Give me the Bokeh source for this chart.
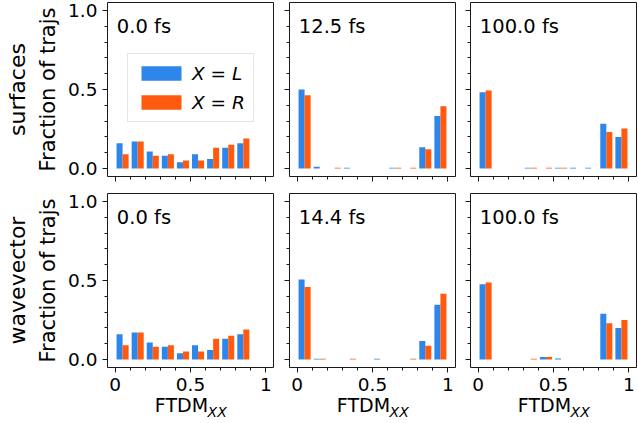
import math
from bokeh.plotting import figure
from bokeh.models import Range1d, FixedTicker, Label, Legend, LegendItem, LinearAxis
from bokeh.layouts import column, row
from bokeh.embed import file_html
from bokeh.resources import INLINE

# ---------------- data ----------------
bin_edges = [0.0, 0.1, 0.2, 0.3, 0.4, 0.5, 0.6, 0.7, 0.8, 0.9, 1.0]
row_names = ["surfaces", "wavevector"]
series_names = ["X = L", "X = R"]
panel_times = [["0.0 fs", "12.5 fs", "100.0 fs"], ["0.0 fs", "14.4 fs", "100.0 fs"]]
x_label_main = "FTDM"
x_label_sub = "XX"
y_label = "Fraction of trajs"

surf_00_L = [0.160, 0.171, 0.108, 0.081, 0.040, 0.091, 0.061, 0.132, 0.160, 0.0]
surf_00_R = [0.091, 0.171, 0.081, 0.091, 0.051, 0.051, 0.132, 0.151, 0.191, 0.0]
surf_125_L = [0.500, 0.012, 0.0, 0.005, 0.0, 0.0, 0.005, 0.0, 0.135, 0.333]
surf_125_R = [0.463, 0.0, 0.005, 0.0, 0.0, 0.0, 0.005, 0.005, 0.122, 0.394]
surf_100_L = [0.482, 0.0, 0.0, 0.005, 0.0, 0.005, 0.005, 0.005, 0.284, 0.200]
surf_100_R = [0.493, 0.0, 0.0, 0.005, 0.005, 0.005, 0.0, 0.0, 0.232, 0.253]

wave_00_L = [0.160, 0.171, 0.108, 0.081, 0.040, 0.091, 0.061, 0.132, 0.160, 0.0]
wave_00_R = [0.091, 0.171, 0.081, 0.091, 0.051, 0.051, 0.132, 0.151, 0.191, 0.0]
wave_144_L = [0.507, 0.006, 0.0, 0.0, 0.0, 0.006, 0.0, 0.0, 0.118, 0.347]
wave_144_R = [0.459, 0.006, 0.0, 0.006, 0.0, 0.0, 0.0, 0.006, 0.088, 0.417]
wave_100_L = [0.476, 0.0, 0.0, 0.0, 0.017, 0.007, 0.0, 0.0, 0.290, 0.200]
wave_100_R = [0.488, 0.0, 0.0, 0.006, 0.017, 0.0, 0.0, 0.0, 0.229, 0.250]

panels = [[(surf_00_L, surf_00_R), (surf_125_L, surf_125_R), (surf_100_L, surf_100_R)],
          [(wave_00_L, wave_00_R), (wave_144_L, wave_144_R), (wave_100_L, wave_100_R)]]

y_ticks = [0.0, 0.5, 1.0]
y_tick_labels = ["0.0", "0.5", "1.0"]
x_ticks = [0.0, 0.5, 1.0]
x_tick_labels = ["0", "0.5", "1"]
minor = [0.1, 0.2, 0.3, 0.4, 0.6, 0.7, 0.8, 0.9]

# ---------------- style ----------------
BLUE = "#2e86eb"
ORANGE = "#ff5a0e"
FONT = "DejaVu Sans"
NBSP = "\u00a0"
FRAME_W = 166
FRAME_H = 174
LB = [107, 8, 8]
RB = [8, 7, 1]
TB = [2, 9]
BB = [8, 55]
PX_Y = FRAME_H / 1.1


def style_axis(ax):
    ax.axis_line_color = None
    ax.major_tick_line_color = "#1a1a1a"
    ax.minor_tick_line_color = "#1a1a1a"
    ax.major_tick_out = 5
    ax.major_tick_in = 0
    ax.minor_tick_out = 3
    ax.minor_tick_in = 0
    ax.major_label_text_font = FONT
    ax.major_label_text_color = "black"
    ax.major_label_text_font_size = "18.5px"


def label_axis(text, size, standoff, italic=False):
    ax = LinearAxis(ticker=FixedTicker(ticks=[]), axis_line_color=None,
                    major_tick_out=0, major_tick_in=0, minor_tick_out=0, minor_tick_in=0,
                    major_label_text_font_size="1px", major_label_standoff=0,
                    major_label_text_alpha=0,
                    axis_label=text, axis_label_standoff=standoff,
                    axis_label_text_font=FONT, axis_label_text_font_size=size,
                    axis_label_text_color="black",
                    axis_label_text_font_style="italic" if italic else "normal")
    return ax


def make_panel(r, c):
    L, R = panels[r][c]
    p = figure(width=LB[c] + FRAME_W + RB[c], height=TB[r] + FRAME_H + BB[r],
               x_range=Range1d(-0.05, 1.05), y_range=Range1d(-0.05, 1.05),
               output_backend="svg", toolbar_location=None, tools="",
               min_border_left=LB[c], min_border_right=RB[c],
               min_border_top=TB[r], min_border_bottom=BB[r])
    p.grid.visible = False
    p.outline_line_color = "#1a1a1a"
    p.outline_line_width = 1
    p.background_fill_color = "white"
    p.border_fill_color = "white"

    lefts = bin_edges[:-1]
    widths = [b - a for a, b in zip(bin_edges[:-1], bin_edges[1:])]
    xl = [a + 0.3 * w for a, w in zip(lefts, widths)]
    xr = [a + 0.7 * w for a, w in zip(lefts, widths)]
    bw = [0.4 * w for w in widths]
    rl = p.vbar(x=xl, top=L, bottom=0, width=bw, fill_color=BLUE, line_color=None)
    rr = p.vbar(x=xr, top=R, bottom=0, width=bw, fill_color=ORANGE, line_color=None)

    style_axis(p.xaxis[0])
    style_axis(p.yaxis[0])
    p.xaxis.ticker = FixedTicker(ticks=x_ticks, minor_ticks=minor)
    p.yaxis.ticker = FixedTicker(ticks=y_ticks, minor_ticks=minor)
    p.xaxis.major_label_overrides = {t: s for t, s in zip(x_ticks, x_tick_labels)}
    p.yaxis.major_label_overrides = {t: s for t, s in zip(y_ticks, y_tick_labels)}

    if r == 1:
        p.xaxis.major_label_standoff = 5
        p.xaxis.axis_label = x_label_main + NBSP * 3
        p.xaxis.axis_label_text_font = FONT
        p.xaxis.axis_label_text_font_size = "19px"
        p.xaxis.axis_label_text_font_style = "normal"
        p.xaxis.axis_label_text_color = "black"
        p.xaxis.axis_label_standoff = 0
        p.add_layout(label_axis(NBSP * 12 + x_label_sub, "14px", -15, italic=True), "below")
    else:
        p.xaxis.major_label_text_alpha = 0
        p.xaxis.major_label_text_font_size = "1px"
        p.xaxis.major_label_standoff = 0

    if c == 0:
        p.yaxis.major_label_standoff = 5
        p.yaxis.axis_label = y_label
        p.yaxis.axis_label_text_font = FONT
        p.yaxis.axis_label_text_font_size = "21px"
        p.yaxis.axis_label_text_font_style = "normal"
        p.yaxis.axis_label_text_color = "black"
        p.yaxis.axis_label_standoff = 5
        p.add_layout(label_axis(row_names[r], "22px", 4), "left")
    else:
        p.yaxis.major_label_text_alpha = 0
        p.yaxis.major_label_text_font_size = "1px"
        p.yaxis.major_label_standoff = 0

    p.add_layout(Label(x=0.012, y=1.05 - 23.9 / PX_Y, text=panel_times[r][c],
                       text_align="left", text_baseline="alphabetic", text_font=FONT,
                       text_font_size="19.5px", text_color="black"))

    if r == 0 and c == 0:
        legend = Legend(items=[LegendItem(label=series_names[0], renderers=[rl]),
                               LegendItem(label=series_names[1], renderers=[rr])],
                        location=(20, 54), margin=0, padding=8, spacing=7,
                        glyph_width=50, glyph_height=18, label_height=22,
                        label_standoff=6,
                        label_text_font=FONT, label_text_font_size="18.5px",
                        label_text_font_style="italic", label_text_color="black",
                        border_line_color="#cccccc", border_line_width=1,
                        background_fill_color="white", background_fill_alpha=0.8)
        p.add_layout(legend)
    return p


rows = [row(*[make_panel(r, c) for c in range(3)]) for r in range(2)]
layout = column(*rows)
open("out.html", "w").write(file_html(layout, INLINE))
